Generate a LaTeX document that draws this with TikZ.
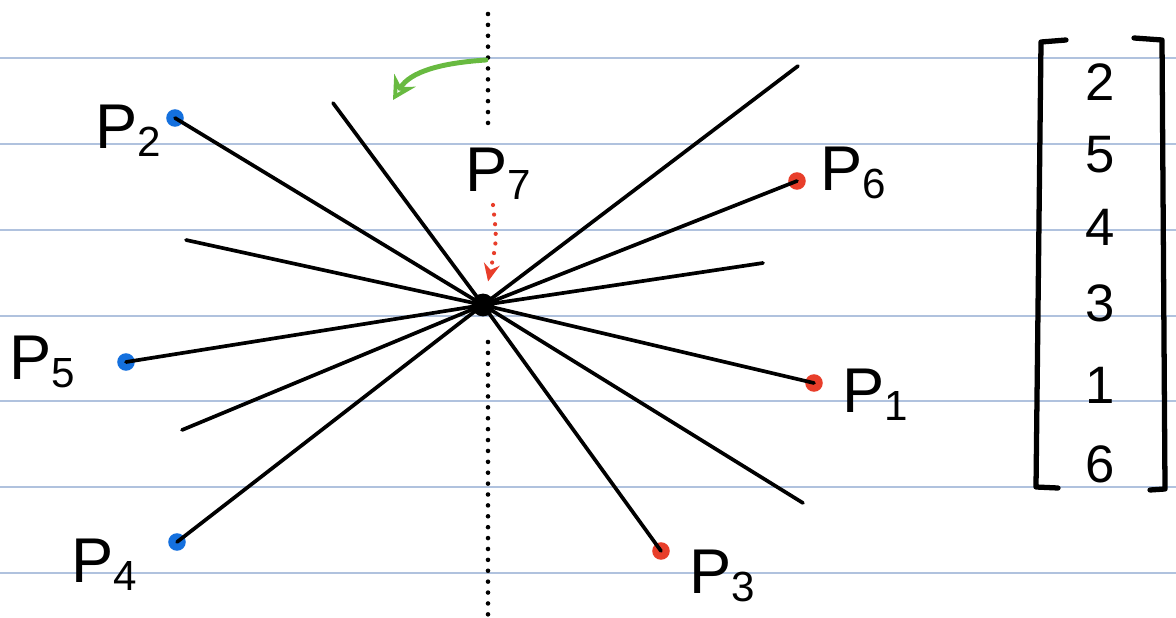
\documentclass[tikz,border=0pt]{standalone}
\usepackage{fontspec}
\setmainfont{Liberation Sans}
\usetikzlibrary{arrows.meta}
\definecolor{ruleblue}{RGB}{176,194,222}
\definecolor{dotblue}{RGB}{20,112,222}
\definecolor{dotred}{RGB}{232,62,42}
\definecolor{penGreen}{RGB}{104,186,64}
\newcommand{\plabel}[1]{P{\fontsize{24}{24}\selectfont\raisebox{-0.35ex}{#1}}}
\begin{document}
\begin{tikzpicture}[x=0.02cm, y=-0.02cm,
    rule/.style={ruleblue, line width=0.7pt},
    ray/.style={line width=2.1pt, line cap=round},
    guide/.style={line width=2.6pt, line cap=round, dash pattern=on 0pt off 6.2pt},
    bdot/.style={circle, fill=dotblue, inner sep=0pt, minimum size=10pt},
    rdot/.style={circle, fill=dotred, inner sep=0pt, minimum size=10pt},
    lbl/.style={font=\fontsize{36}{36}\selectfont, inner sep=0pt},
    num/.style={font=\fontsize{30}{30}\selectfont, inner sep=0pt},
    brk/.style={line width=3pt, line cap=round, line join=round},
    greenarr/.style={penGreen, line width=2.8pt, line cap=round, -{Stealth[open, length=13pt, width=14pt, line width=2.2pt]}},
    redarr/.style={dotred, line width=2.4pt, line cap=round, dash pattern=on 0pt off 5.5pt, -{Stealth[length=10pt, width=9pt]}}
]
\useasboundingbox (0,0) rectangle (1176,618);

% ruled paper
\foreach \y in {58,144,230,316,401,487,573}
  \draw[rule] (0,\y) -- (1176,\y);

% vertical guide
\draw[guide] (488,14) -- (488,124);
\draw[guide] (488,342) -- (488,616);

% points
\node[circle, fill=black, inner sep=0pt, minimum size=13pt] (c) at (483,305) {};
\node[rdot] (p1) at (814,383) {};
\node[bdot] (p2) at (175,118) {};
\node[rdot] (p3) at (661,551) {};
\node[bdot] (p4) at (177,542) {};
\node[bdot] (p5) at (126,362) {};
\node[rdot] (p6) at (797,181) {};

% free ends of the lines
\coordinate (e1) at (186,240);
\coordinate (e2) at (803,503);
\coordinate (e3) at (333,103);
\coordinate (e4) at (798,66);
\coordinate (e5) at (763,263);
\coordinate (e6) at (182,430);

\foreach \i in {1,...,6}
  \draw[ray] (e\i) -- (c.center) -- (p\i.center);

% labels
\node[lbl] (l1) at (875,395) {\plabel{1}};
\node[lbl] (l2) at (128,131) {\plabel{2}};
\node[lbl] (l3) at (722,576) {\plabel{3}};
\node[lbl] (l4) at (104,565) {\plabel{4}};
\node[lbl] (l5) at (42,362) {\plabel{5}};
\node[lbl] (l6) at (853,173) {\plabel{6}};
\node[lbl] (l7) at (498,174) {\plabel{7}};

% arrows
\coordinate (g0) at (486,60);
\coordinate (g1) at (393,100);
\draw[greenarr] (g0) .. controls (440,63) and (410,72) .. (g1);
\draw[redarr, shorten >=7pt] (493,205) .. controls (497,240) .. (c);

% order vector
\draw[brk] (1066,40) -- (1041,42) -- (1036,487) -- (1058,488);
\draw[brk] (1134,38) -- (1162,40) -- (1165,489) -- (1150,490);
\node[num] (v1) at (1100,82) {2};
\node[num] (v2) at (1100,155) {5};
\node[num] (v3) at (1100,227) {4};
\node[num] (v4) at (1100,303) {3};
\node[num] (v5) at (1100,385) {1};
\node[num] (v6) at (1100,464) {6};
\end{tikzpicture}
\end{document}
